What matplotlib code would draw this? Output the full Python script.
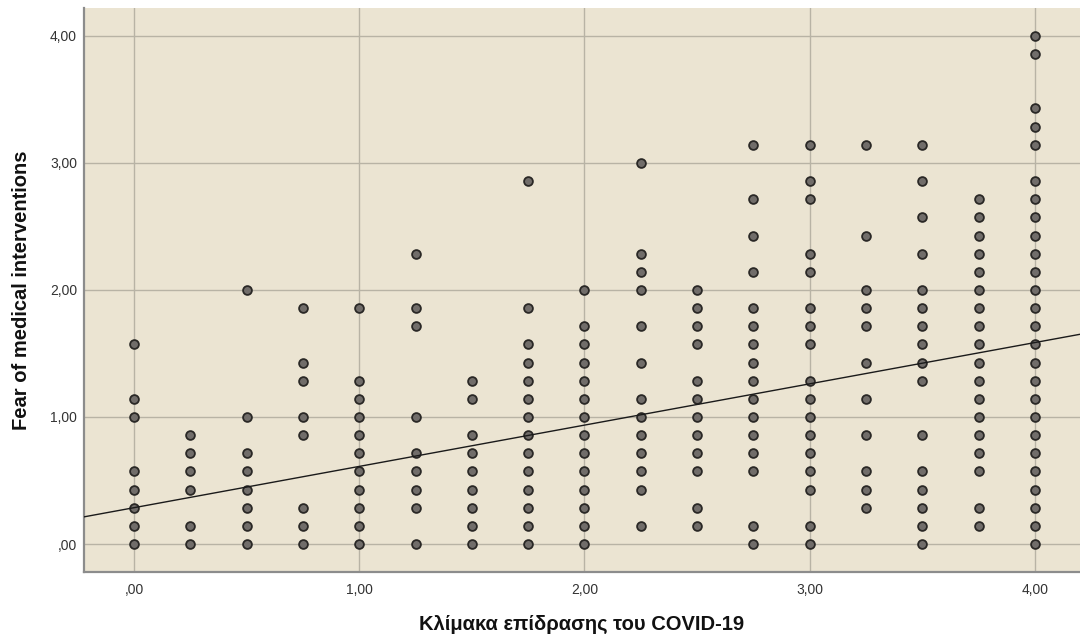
import numpy as np
import matplotlib
matplotlib.use('Agg')
import matplotlib.pyplot as plt
from matplotlib.ticker import FuncFormatter

plt.rcParams['font.family'] = ['Liberation Sans', 'DejaVu Sans']

# COVID-19 impact scale levels (x) and the fear scores seen at each level,
# given as item sums of the 7-item fear scale (score = sum / 7)
impact_levels = [0.0, 0.25, 0.5, 0.75, 1.0, 1.25, 1.5, 1.75, 2.0, 2.25,
                 2.5, 2.75, 3.0, 3.25, 3.5, 3.75, 4.0]
fear_sums = [
    [0, 1, 2, 3, 4, 7, 8, 11],
    [0, 1, 3, 4, 5, 6],
    [0, 1, 2, 3, 4, 5, 7, 14],
    [0, 1, 2, 6, 7, 9, 10, 13],
    [0, 1, 2, 3, 4, 5, 6, 7, 8, 9, 13],
    [0, 2, 3, 4, 5, 7, 12, 13, 16],
    [0, 1, 2, 3, 4, 5, 6, 8, 9],
    [0, 1, 2, 3, 4, 5, 6, 7, 8, 9, 10, 11, 13, 20],
    [0, 1, 2, 3, 4, 5, 6, 7, 8, 9, 10, 11, 12, 14],
    [1, 3, 4, 5, 6, 7, 8, 10, 12, 14, 15, 16, 21],
    [1, 2, 4, 5, 6, 7, 8, 9, 11, 12, 13, 14],
    [0, 1, 4, 5, 6, 7, 8, 9, 10, 11, 12, 13, 15, 17, 19, 22],
    [0, 1, 3, 4, 5, 6, 7, 8, 9, 11, 12, 13, 15, 16, 19, 20, 22],
    [2, 3, 4, 6, 8, 10, 12, 13, 14, 17, 22],
    [0, 1, 2, 3, 4, 6, 9, 10, 11, 12, 13, 14, 16, 18, 20, 22],
    [1, 2, 4, 5, 6, 7, 8, 9, 10, 11, 12, 13, 14, 15, 16, 17, 18, 19],
    [0, 1, 2, 3, 4, 5, 6, 7, 8, 9, 10, 11, 12, 13, 14, 15, 16, 17, 18, 19, 20,
     22, 23, 24, 27, 28],
]
n_items = 7

# fitted linear regression line
fit_intercept = 0.286
fit_slope = 0.325

tick_values = [0, 1, 2, 3, 4]


def comma_label(v, pos):
    # SPSS style: decimal comma, no leading zero
    txt = ('%.2f' % v).replace('.', ',')
    if txt.startswith('0,'):
        txt = txt[1:]
    return txt


x_pts = []
y_pts = []
for level, sums in zip(impact_levels, fear_sums):
    for s in sums:
        x_pts.append(level)
        y_pts.append(s / n_items)
x_pts = np.array(x_pts)
y_pts = np.array(y_pts)

fig = plt.figure(figsize=(10.8, 6.41), dpi=100)
ax = fig.add_axes([0.0778, 0.1076, 0.9222, 0.88])
ax.set_facecolor('#ebe4d2')

ax.set_xlim(-0.222, 4.2)
ax.set_ylim(-0.2205, 4.22)
ax.set_xticks(tick_values)
ax.set_yticks(tick_values)
ax.xaxis.set_major_formatter(FuncFormatter(comma_label))
ax.yaxis.set_major_formatter(FuncFormatter(comma_label))

ax.grid(True, color='#b8b3a5', linewidth=1.0)
ax.set_axisbelow(True)

ax.scatter(x_pts, y_pts, s=40, facecolor='#716d6a', edgecolor='#2a2826',
           linewidth=1.3, zorder=3)

line_x = np.array(ax.get_xlim())
ax.plot(line_x, fit_intercept + fit_slope * line_x, color='#1a1a1a',
        linewidth=1.0, zorder=4)

for side in ['top', 'right']:
    ax.spines[side].set_visible(False)
for side in ['left', 'bottom']:
    ax.spines[side].set_color('#8c8c8c')
    ax.spines[side].set_linewidth(1.6)

ax.tick_params(length=0, labelsize=10, labelcolor='#333333')
ax.tick_params(axis='y', pad=5)
ax.tick_params(axis='x', pad=8)

ax.set_xlabel('Κλίμακα επίδρασης του COVID-19', fontsize=14.5,
              fontweight='bold', color='#111111', labelpad=13)
ax.set_ylabel('Fear of medical interventions', fontsize=14.5,
              fontweight='bold', color='#111111', labelpad=14)

fig.savefig('out.png', dpi=100)
